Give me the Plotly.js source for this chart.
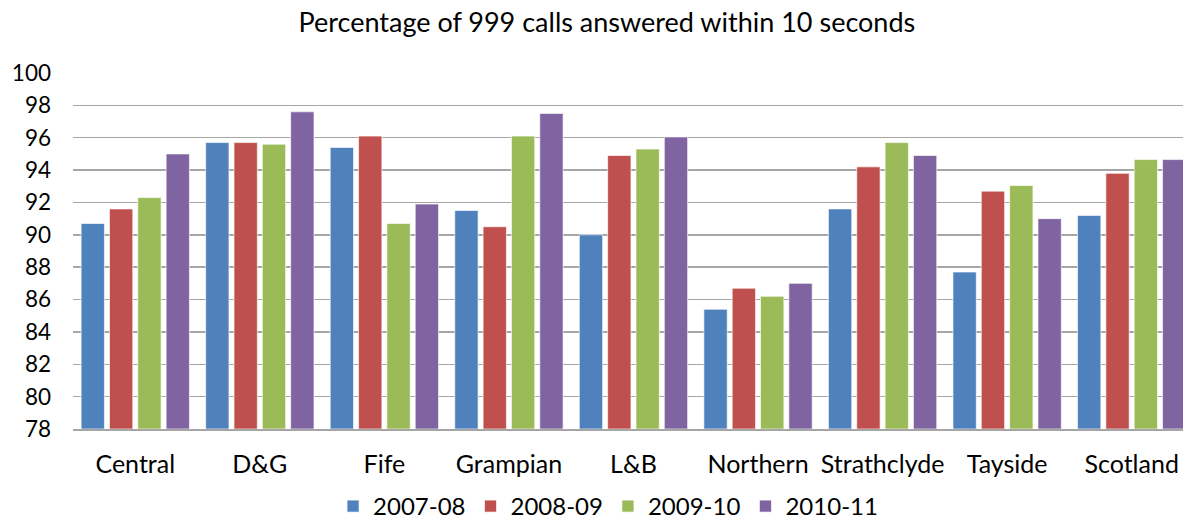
<!DOCTYPE html>
<html>
<head>
<meta charset="utf-8">
<script src="https://cdn.plot.ly/plotly-3.0.1.min.js"></script>
<style>html,body{margin:0;padding:0;background:#fff;}#chart{width:1183px;height:529px;}</style>
</head>
<body>
<div id="chart"></div>
<script>
const categories = ["Central", "D&G", "Fife", "Grampian", "L&B", "Northern", "Strathclyde", "Tayside", "Scotland"];
const seriesNames = ["2007-08", "2008-09", "2009-10", "2010-11"];
const v2007_08 = [90.7, 95.7, 95.4, 91.5, 90.0, 85.4, 91.6, 87.7, 91.2];
const v2008_09 = [91.6, 95.7, 96.1, 90.5, 94.9, 86.7, 94.2, 92.7, 93.8];
const v2009_10 = [92.3, 95.6, 90.7, 96.1, 95.3, 86.2, 95.7, 93.05, 94.65];
const v2010_11 = [95.0, 97.6, 91.9, 97.5, 96.05, 87.0, 94.9, 91.0, 94.65];
const yTicks = [78, 80, 82, 84, 86, 88, 90, 92, 94, 96, 98, 100];
const colors = ["#4F81BD", "#C0504D", "#9BBB59", "#8064A2"];

const FONT = "Lato, 'Open Sans', sans-serif";
const allValues = [v2007_08, v2008_09, v2009_10, v2010_11];
const traces = allValues.map((vals, i) => ({
  type: "bar",
  name: seriesNames[i],
  x: categories.map((c, k) => k),
  y: vals.map(v => v - 78),
  base: 78,
  marker: {color: colors[i], line: {color: "rgba(255,255,255,0.8)", width: 0.8}},
  hoverinfo: "skip"
}));

const layout = {
  width: 1183, height: 529,
  paper_bgcolor: "#fff", plot_bgcolor: "#fff",
  margin: {l: 73, r: 0, t: 73, b: 100},
  title: {text: "Percentage of 999 calls answered within 10 seconds", font: {family: FONT, size: 27, color: "#000"}, x: 0.513, xanchor: "center", y: 0.957, yanchor: "middle"},
  barmode: "group",
  bargap: 0.09,
  bargroupgap: 0.177,
  xaxis: {
    range: [-0.5, 8.412],
    automargin: false,
    tickmode: "array",
    tickvals: categories.map((c, k) => k),
    ticktext: categories,
    tickfont: {family: FONT, size: 25, color: "#000"},
    showgrid: false, zeroline: false,
    showline: true, linecolor: "#a6a6a6", linewidth: 1.5,
    ticks: "", ticklen: 0,
    ticklabelstandoff: 12
  },
  yaxis: {
    range: [78, 100],
    automargin: false,
    tickmode: "array",
    tickvals: yTicks,
    ticktext: yTicks.map(String),
    tickfont: {family: FONT, size: 22.5, color: "#000"},
    showgrid: true, gridcolor: "#a6a6a6", gridwidth: 1.5,
    zeroline: false, showline: false,
    ticks: "", ticklen: 0,
    ticklabelstandoff: 21
  },
  showlegend: true,
  legend: {orientation: "h", xref: "container", yref: "container", x: 0.514, xanchor: "center", y: -0.013, yanchor: "bottom", font: {family: FONT, size: 24, color: "#000"}, itemwidth: 30, traceorder: "normal"}
};

Plotly.newPlot("chart", traces, layout, {displayModeBar: false, staticPlot: true});
</script>
</body>
</html>
